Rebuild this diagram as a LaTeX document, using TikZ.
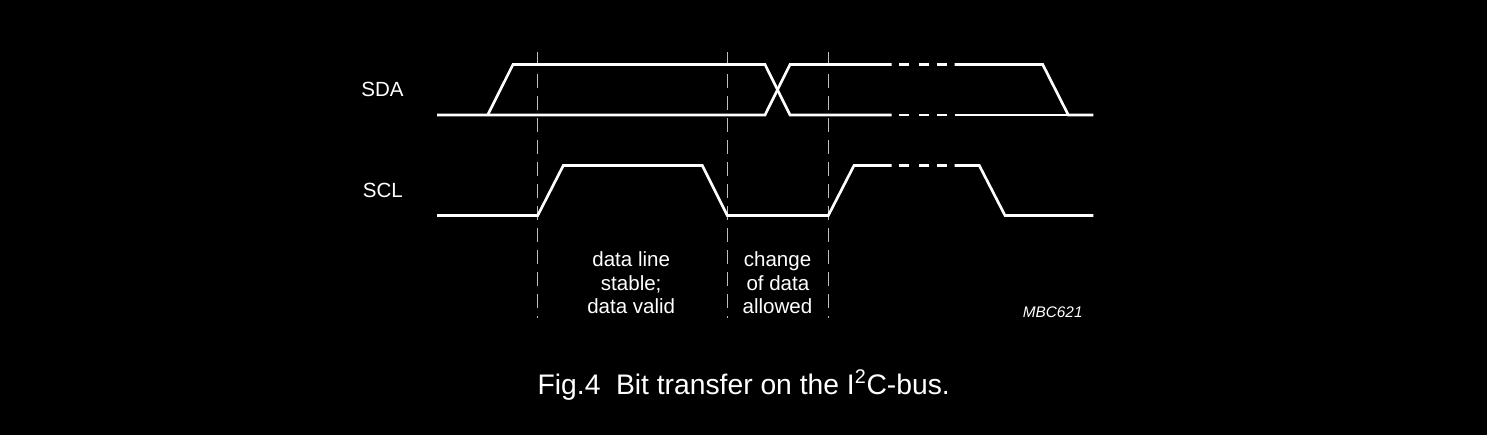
\documentclass[tikz,border=0pt]{standalone}
\usepackage{fontspec}
\setmainfont{Liberation Sans}
\definecolor{guide}{RGB}{190,190,190}
\tikzset{
  sig/.style={draw=white, line width=2pt, line join=miter},
  guideline/.style={draw=guide, line width=1pt, dash pattern=on 10.5pt off 6pt},
  lbl/.style={text=white, inner sep=0pt, anchor=base, font=\fontsize{15.4}{17.5}\selectfont},
  codelbl/.style={text=white, inner sep=0pt, anchor=base, font=\fontsize{11.5}{14}\selectfont\itshape},
  captionlbl/.style={text=white, inner sep=0pt, anchor=base, font=\fontsize{21.2}{25}\selectfont}
}
\begin{document}
\begin{tikzpicture}[x=0.75pt,y=-0.75pt]
\fill[black] (0,0) rectangle (1487,435);
\useasboundingbox (0,0) rectangle (1487,435);

% vertical guides
\foreach \gx/\gn in {537.7/ga,727.3/gb,828.3/gc}{
  \coordinate (\gn top) at (\gx,52);
  \coordinate (\gn bot) at (\gx,318);
  \draw[guideline] (\gn top) -- (\gn bot);
}

% SDA
\draw[sig] (437,115) -- (765,115) -- (790,64.5) -- (891.7,64.5);
\draw[sig] (487.7,115) -- (513,64.5) -- (765,64.5) -- (790,115) -- (891.7,115);
\foreach \yy in {64.5,115,165.5}{
  \draw[sig] (899,\yy) -- (909.3,\yy);
  \draw[sig] (919,\yy) -- (929.3,\yy);
  \draw[sig] (937,\yy) -- (947,\yy);
}
\draw[sig] (954.7,64.5) -- (1042.7,64.5) -- (1068.3,115) -- (1093.3,115);
\draw[sig] (954.7,115) -- (1068.3,115);

% SCL
\draw[sig] (437,215.5) -- (537.7,215.5) -- (563.3,165.5) -- (702.3,165.5)
  -- (727.3,215.5) -- (828.3,215.5) -- (854,165.5) -- (891.7,165.5);
\draw[sig] (954.7,165.5) -- (979.3,165.5) -- (1005,215.5) -- (1093.3,215.5);

% labels
\node[lbl] (sda) at (382.5,96.7) {SDA};
\node[lbl] (scl) at (382.8,197.3) {SCL};

\node[lbl] (dl1) at (631.2,266.7) {data line};
\node[lbl] (dl2) at (631.2,290) {stable;};
\node[lbl] (dl3) at (631.2,313.3) {data valid};

\node[lbl] (ch1) at (777.5,266.7) {change};
\node[lbl] (ch2) at (777.9,290) {of data};
\node[lbl] (ch3) at (777.5,313.3) {allowed};

\node[codelbl] (mbc) at (1052.7,317.7) {MBC621};

\node[captionlbl] (caption) at (743.7,394) {Fig.4\hspace{0.55em}Bit transfer on the I\textsuperscript{2}C-bus.};
\end{tikzpicture}
\end{document}
